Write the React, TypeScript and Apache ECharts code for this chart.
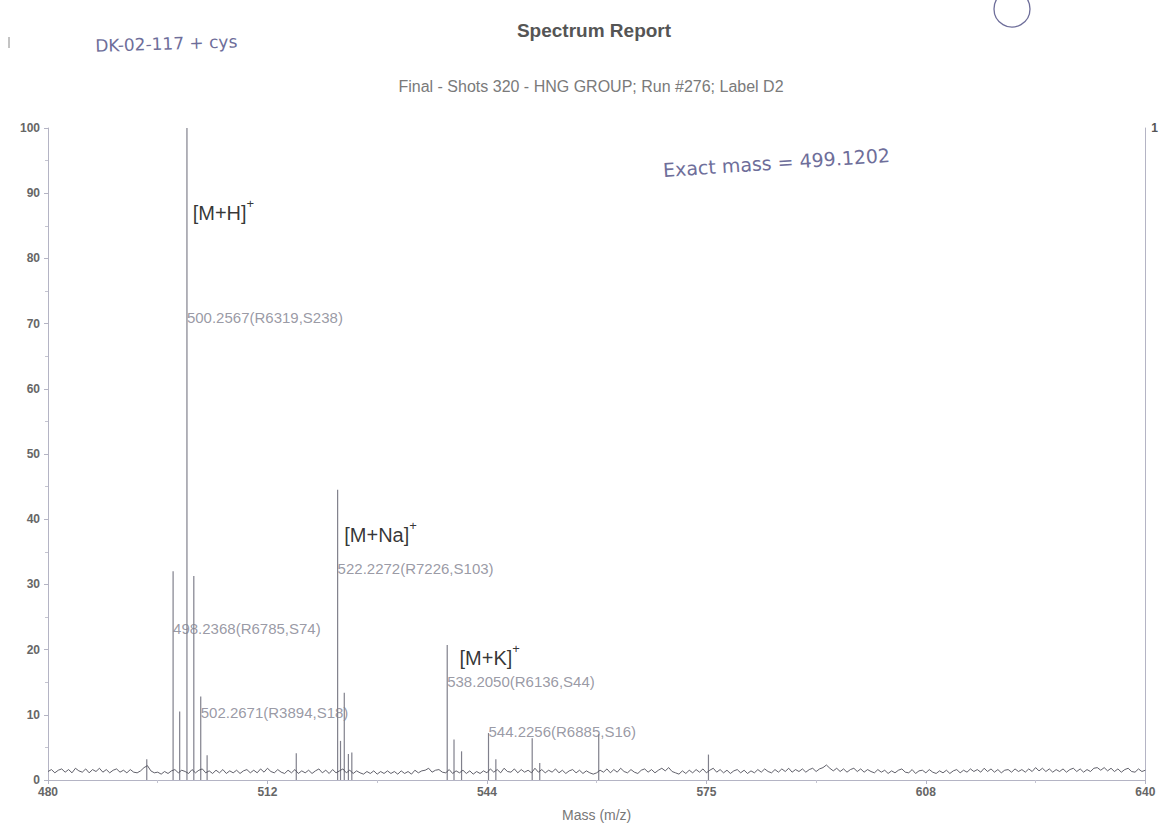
import React, { useEffect, useRef } from "react";
import * as echarts from "echarts";

// ---- Data ----
const xTicks = [480, 512, 544, 576, 608, 640];
const xTickLabels = ["480", "512", "544", "575", "608", "640"];

// baseline noise, sampled every 0.5 m/z from 480 to 640
const noiseStart = 480;
const noiseStep = 0.5;
const noiseVals = [
  1.3, 1.6, 1.1, 1.5, 1.7, 1.2, 1.6, 1.1, 1.8, 1.4, 1.2, 1.7, 1.1, 1.6, 1.3, 1.8, 1.2, 1.6, 1.1, 1.5,
  1.7, 1.2, 1.5, 1.1, 1.6, 1.2, 1.1, 1.4, 1.9, 2.2, 1.4, 1.1, 1.2, 0.9, 1.3, 1.0, 1.4, 1.6, 1.1, 1.5,
  1.3, 1.0, 1.6, 1.1, 1.5, 1.7, 1.1, 1.4, 1.0, 1.5, 1.1, 1.6, 1.0, 1.4, 1.1, 1.5, 1.0, 1.4, 1.6, 1.1,
  1.5, 1.1, 1.7, 1.2, 1.8, 1.3, 1.1, 1.6, 1.2, 1.0, 1.5, 1.1, 1.6, 1.0, 1.4, 1.1, 1.5, 1.0, 1.4, 1.7,
  1.1, 1.5, 1.0, 1.6, 1.1, 1.4, 1.7, 1.1, 1.5, 1.0, 1.4, 1.1, 0.9, 1.3, 1.0, 1.4, 0.9, 1.3, 1.0, 1.4,
  1.0, 1.3, 0.9, 1.4, 1.0, 1.3, 0.9, 1.5, 1.1, 1.4, 1.5, 1.8, 1.2, 1.5, 1.6, 1.2, 1.1, 1.6, 1.0, 1.4,
  1.1, 1.5, 1.0, 1.4, 0.9, 1.3, 1.0, 1.4, 1.1, 1.7, 1.2, 1.6, 1.1, 1.8, 1.3, 1.2, 1.7, 1.1, 1.6, 1.2,
  1.5, 1.1, 1.8, 1.2, 1.6, 1.1, 1.5, 1.2, 1.7, 1.1, 1.5, 1.0, 1.4, 1.6, 1.1, 1.5, 1.0, 1.4, 1.1, 0.9,
  1.1, 1.5, 1.2, 1.7, 1.1, 1.6, 1.2, 1.8, 1.3, 1.1, 1.6, 1.2, 1.0, 1.5, 1.7, 1.2, 1.6, 1.1, 1.5, 1.8,
  1.4, 1.9, 1.3, 1.1, 0.9, 1.4, 1.0, 1.5, 1.1, 1.6, 1.2, 1.7, 1.1, 1.5, 1.8, 1.2, 1.6, 1.1, 1.5, 1.0,
  1.4, 1.6, 1.1, 1.5, 1.0, 1.4, 1.1, 1.6, 1.2, 1.7, 1.3, 1.1, 1.6, 1.2, 1.7, 1.3, 1.8, 1.2, 1.6, 1.3,
  1.7, 1.2, 1.6, 1.8, 1.3, 1.7, 1.9, 2.3, 1.8, 1.4, 1.8, 1.3, 1.7, 1.2, 1.6, 1.8, 1.3, 1.7, 1.2, 1.6,
  1.3, 1.1, 1.6, 1.2, 1.5, 1.0, 1.4, 1.1, 1.5, 1.7, 1.2, 1.1, 1.6, 1.0, 1.4, 1.5, 1.1, 1.6, 1.2, 1.0,
  1.4, 1.1, 1.5, 1.0, 1.4, 1.6, 1.1, 1.5, 1.2, 1.7, 1.3, 1.6, 1.2, 1.8, 1.3, 1.7, 1.2, 1.6, 1.1, 1.5,
  1.6, 1.2, 1.7, 1.3, 1.6, 1.2, 1.7, 1.3, 1.9, 1.4, 1.8, 1.3, 1.7, 1.2, 1.6, 1.3, 1.7, 1.2, 1.6, 1.8,
  1.3, 1.7, 1.2, 1.6, 1.3, 1.8, 1.9, 1.5, 1.9, 1.4, 1.8, 1.3, 1.7, 1.2, 1.6, 1.8, 1.3, 1.2, 1.7, 1.3,
  1.5,
];

// spectral peaks (m/z, % intensity)
const peakMass = [494.4, 498.24, 499.2, 500.26, 501.26, 502.27, 503.2, 516.2, 522.23, 522.65, 523.2, 523.8, 524.3, 538.21, 539.2, 540.3, 544.23, 545.3, 550.6, 551.7, 560.3, 576.3];
const peakInt = [3.2, 32, 10.5, 100, 31.3, 12.8, 3.8, 4.1, 44.5, 6, 13.4, 4, 4.2, 20.7, 6.2, 4.4, 7.2, 3.2, 6.4, 2.6, 7, 3.9];

// peak annotations
const annMass = [500.2567, 498.2368, 502.2671, 522.2272, 538.205, 544.2256];
const annY = [71, 23.2, 10.4, 32.5, 15.1, 7.5];
const annText = [
  "500.2567(R6319,S238)",
  "498.2368(R6785,S74)",
  "502.2671(R3894,S18)",
  "522.2272(R7226,S103)",
  "538.2050(R6136,S44)",
  "544.2256(R6885,S16)",
];

// ion labels
const ionMass = [501.1, 523.2, 540.0];
const ionY = [87.5, 38.1, 19.2];
const ionText = ["[M+H]", "[M+Na]", "[M+K]"];

const handColor = "#6e6e9a";

export default function App() {
  const ref = useRef<HTMLDivElement>(null);
  useEffect(() => {
    if (!ref.current) return;
    const chart = echarts.init(ref.current, undefined, { renderer: "svg" });
    const noiseData = noiseVals.map((v, i) => [noiseStart + i * noiseStep, v]);
    const peakData = peakMass.map((m, i) => [m, peakInt[i]]);
    const annData = annMass.map((m, i) => [m, annY[i], annText[i]]);
    const ionData = ionMass.map((m, i) => [m, ionY[i], ionText[i]]);

    const option: any = {
      animation: false,
      backgroundColor: "#ffffff",
      textStyle: { fontFamily: "Liberation Sans, Arial, sans-serif" },
      title: [
        {
          text: "Spectrum Report",
          left: 589,
          top: 16,
          textAlign: "center",
          textStyle: { fontSize: 19, fontWeight: "bold", color: "#555" },
        },
        {
          text: "Final - Shots 320 - HNG GROUP; Run #276; Label D2",
          left: 586,
          top: 73,
          textAlign: "center",
          textStyle: { fontSize: 16, fontWeight: "normal", color: "#7a7a7a" },
        },
      ],
      grid: { left: 48, right: 14, top: 128, bottom: 43, containLabel: false },
      xAxis: {
        type: "value",
        min: 480,
        max: 640,
        interval: 32,
        name: "Mass (m/z)",
        nameLocation: "middle",
        nameGap: 28,
        nameTextStyle: { fontSize: 14, color: "#777" },
        axisLine: { show: true, lineStyle: { color: "#b4b4c4", width: 1 } },
        axisTick: { show: true, length: 4, lineStyle: { color: "#b4b4c4" } },
        minorTick: { show: true, splitNumber: 2, length: 3, lineStyle: { color: "#c4c4d0" } },
        splitLine: { show: false },
        axisLabel: {
          fontSize: 12,
          fontWeight: "bold",
          color: "#666",
          margin: 6,
          formatter: (v: number) => {
            const idx = xTicks.indexOf(Math.round(v));
            return idx >= 0 ? xTickLabels[idx] : "";
          },
        },
      },
      yAxis: [
        {
          type: "value",
          min: 0,
          max: 100,
          interval: 10,
          axisLine: { show: true, lineStyle: { color: "#b4b4c4", width: 1 } },
          axisTick: { show: true, length: 4, lineStyle: { color: "#b4b4c4" } },
          minorTick: { show: true, splitNumber: 2, length: 3, lineStyle: { color: "#c4c4d0" } },
          splitLine: { show: false },
          axisLabel: { fontSize: 12, fontWeight: "bold", color: "#666", margin: 8 },
        },
        {
          type: "value",
          position: "right",
          min: 0,
          max: 1,
          interval: 1,
          axisLine: { show: true, lineStyle: { color: "#b4b4c4", width: 1 } },
          axisTick: { show: false },
          splitLine: { show: false },
          axisLabel: {
            fontSize: 12,
            fontWeight: "bold",
            color: "#555",
            margin: 6,
            formatter: (v: number) => (v === 1 ? "1" : ""),
          },
        },
      ],
      series: [
        {
          type: "custom",
          name: "peaks",
          data: peakData,
          renderItem: (params: any, api: any) => {
            const p0 = api.coord([api.value(0), 0]);
            const p1 = api.coord([api.value(0), api.value(1)]);
            return {
              type: "line",
              shape: { x1: p0[0], y1: p0[1], x2: p1[0], y2: p1[1] },
              style: { stroke: "#80808c", lineWidth: 1.2 },
            };
          },
          z: 3,
        },
        {
          type: "line",
          name: "noise",
          data: noiseData,
          symbol: "none",
          lineStyle: { color: "#4f4f5a", width: 0.9 },
          z: 4,
        },
        {
          type: "scatter",
          name: "annotations",
          data: annData,
          symbolSize: 0,
          z: 5,
          label: {
            show: true,
            position: "right",
            distance: 0,
            fontSize: 15,
            color: "#80808e",
            formatter: (p: any) => p.data[2],
          },
        },
        {
          type: "scatter",
          name: "ions",
          data: ionData,
          symbolSize: 0,
          z: 5,
          label: {
            show: true,
            position: "right",
            distance: 0,
            formatter: (p: any) => `{a|${p.data[2]}}{s|+}`,
            rich: {
              a: { fontSize: 20, color: "#000", lineHeight: 26, verticalAlign: "bottom" },
              s: { fontSize: 13, color: "#000", lineHeight: 26, verticalAlign: "top" },
            },
          },
        },
      ],
      graphic: [
        {
          type: "text",
          left: 95,
          top: 33,
          rotation: 0.03,
          style: {
            text: "DK-02-117 + cys",
            font: "17px 'DejaVu Sans', sans-serif",
            fill: handColor,
          },
        },
        {
          type: "text",
          x: 663,
          y: 170,
          rotation: 0.066,
          style: {
            text: "Exact mass = 499.1202",
            font: "19px 'DejaVu Sans', sans-serif",
            fill: handColor,
            textVerticalAlign: "middle",
          },
        },
        {
          type: "circle",
          shape: { cx: 1012, cy: 9, r: 18 },
          style: { fill: "none", stroke: handColor, lineWidth: 1.3 },
        },
        {
          type: "line",
          shape: { x1: 9, y1: 37, x2: 9, y2: 48 },
          style: { stroke: "#888", lineWidth: 1 },
        },
      ],
    };
    chart.setOption(option);
    return () => chart.dispose();
  }, []);

  return (
    <div
      ref={ref}
      style={{ position: "fixed", left: 0, top: 0, width: 1161, height: 827, background: "#fff" }}
    />
  );
}
